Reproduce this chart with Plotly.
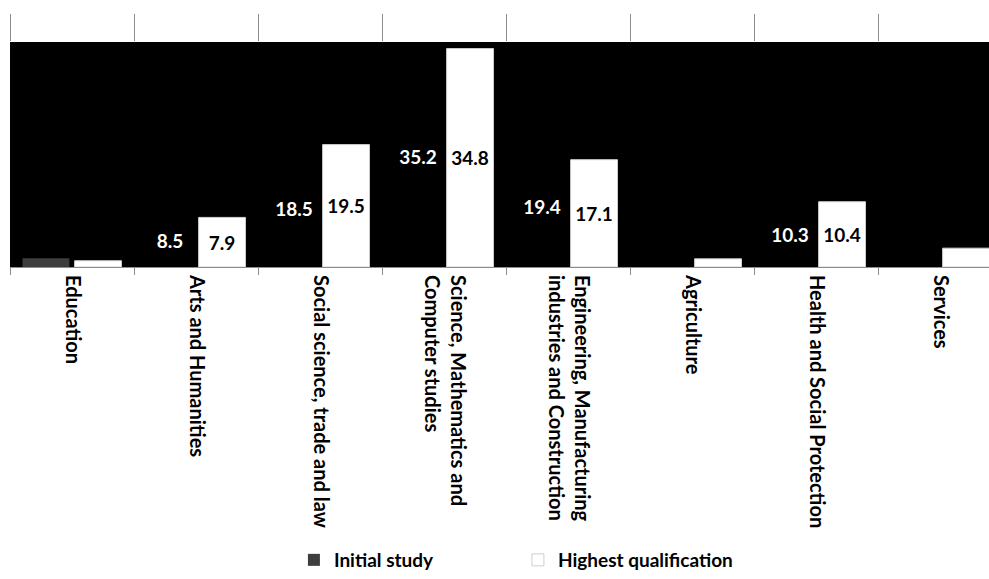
import plotly.graph_objects as go

# Field of study: share (%) by initial study vs highest qualification
categories = [
    "Education",
    "Arts and Humanities",
    "Social science, trade and law",
    "Science, Mathematics and<br>Computer studies",
    "Engineering, Manufacturing<br>industries and Construction",
    "Agriculture",
    "Health and Social Protection",
    "Services",
]
initial_study = [1.4, 8.5, 18.5, 35.2, 19.4, 1.5, 10.3, 2.5]
highest_qualification = [1.0, 7.9, 19.5, 34.8, 17.1, 1.3, 10.4, 3.0]
labelled = [False, True, True, True, True, False, True, False]

FONT = "Lato"
GRID = "#8c8c8c"
X_RANGE = [-0.5, 7.395]


def labels(values):
    return [f"{v:.1f}" if show else "" for v, show in zip(values, labelled)]


fig = go.Figure()

fig.add_trace(go.Bar(
    name="Initial study",
    x=categories,
    y=initial_study,
    text=labels(initial_study),
    textposition="inside",
    insidetextanchor="middle",
    textangle=0,
    constraintext="none",
    textfont=dict(family=FONT, size=19, color="white", weight="bold"),
    marker=dict(color=["#3d3d3d"] + ["#000000"] * 7, line=dict(width=0)),
))

fig.add_trace(go.Bar(
    name="Highest qualification",
    x=categories,
    y=highest_qualification,
    text=labels(highest_qualification),
    textposition="inside",
    insidetextanchor="middle",
    textangle=0,
    constraintext="none",
    textfont=dict(family=FONT, size=19, color="black", weight="bold"),
    marker=dict(color="white", line=dict(color="#cfcfcf", width=1)),
))

# empty series that registers the categories on the top axis (for its separators)
fig.add_trace(go.Scatter(
    x=categories, y=[None] * len(categories),
    xaxis="x2", mode="markers", showlegend=False, hoverinfo="skip",
))

fig.update_layout(
    width=989,
    height=579,
    margin=dict(l=10, r=0, t=42, b=311),
    paper_bgcolor="white",
    plot_bgcolor="black",
    barmode="group",
    bargap=0.16,
    bargroupgap=0.1,
    showlegend=True,
    legend=dict(
        orientation="h",
        x=0.29, xanchor="left",
        y=-1.305, yanchor="middle",
        font=dict(family=FONT, size=19, color="black", weight="bold"),
        entrywidth=179, entrywidthmode="pixels",
        traceorder="normal",
    ),
    font=dict(family=FONT, color="black"),
    xaxis=dict(
        type="category",
        range=X_RANGE,
        tickson="boundaries",
        showgrid=False,
        ticks="outside",
        ticklen=7,
        tickcolor=GRID,
        showline=True,
        linecolor=GRID,
        linewidth=1,
        tickangle=90,
        ticklabelstandoff=3,
        tickfont=dict(family=FONT, size=20, color="black", weight="bold"),
    ),
    xaxis2=dict(
        type="category",
        overlaying="x",
        side="top",
        range=X_RANGE,
        tickson="boundaries",
        showgrid=False,
        ticks="outside",
        ticklen=27,
        tickcolor=GRID,
        showline=False,
        showticklabels=False,
    ),
    yaxis=dict(
        range=[0, 35.85],
        showgrid=False,
        zeroline=False,
        showticklabels=False,
        showline=False,
    ),
)

fig.write_html("out.html")
